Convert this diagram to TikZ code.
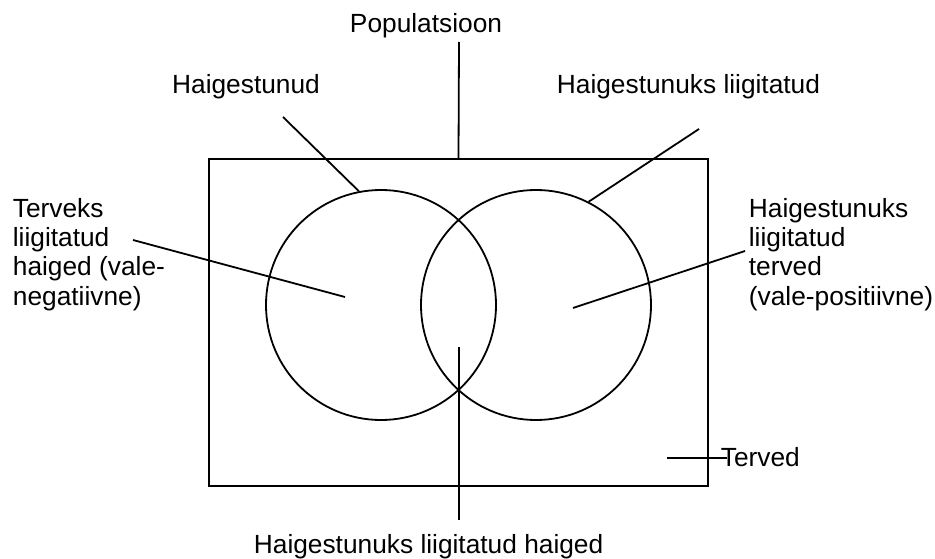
\documentclass[tikz,border=0pt]{standalone}
\usepackage{fontspec}
\setmainfont{Liberation Sans}
\begin{document}
\begin{tikzpicture}[x=1pt, y=-1pt, line width=1.8pt]
        \tikzset{
            silt/.style={inner sep=0pt, align=left, font=\fontsize{26.3}{29.2}\selectfont},
            ring/.style={draw, circle, minimum size=230pt, inner sep=0pt}
        }

                \useasboundingbox (0,0) rectangle (935,559);

                \node[draw, minimum width=499pt, minimum height=327pt, inner sep=0pt] (pop) at (458.5,322.5) {};
                \node[ring] (haiged) at (381,305) {};
                \node[ring] (terved) at (536,305) {};

                \node[silt, anchor=base] (popLbl) at (426,33) {Populatsioon};
                \node[silt, anchor=base] (haigeLbl) at (246,94) {Haigestunud};
                \node[silt, anchor=base west] (liigLbl) at (556,94) {Haigestunuks liigitatud};
                \node[silt, anchor=base west] (negLbl) at (12,305) {Terveks\\liigitatud\\haiged (vale-\\negatiivne)};
                \node[silt, anchor=base west] (posLbl) at (748,305) {Haigestunuks\\liigitatud\\terved\\(vale-positiivne)};
                \node[silt, anchor=base west] (tervLbl) at (720,466) {Terved};
                \node[silt, anchor=base west] (okLbl) at (253,553) {Haigestunuks liigitatud haiged};

                \coordinate (popEnd) at (459,42);
                \coordinate (haigeEnd) at (283,117);
                \coordinate (liigEnd) at (699,129);
                \coordinate (negEnd) at (133,240);
                \coordinate (negIn) at (345,297);
                \coordinate (posEnd) at (745,251);
                \coordinate (posIn) at (573,308);
                \coordinate (tervEnd) at (727,458);
                \coordinate (tervIn) at (667,458);
                \coordinate (okEnd) at (459,520);
                \coordinate (okIn) at (459,347);

                \draw (popEnd) -- (pop.north);
                \draw (haigeEnd) -- (haiged.101);
                \draw (liigEnd) -- (terved.63);
                \draw (negEnd) -- (negIn);
                \draw (posEnd) -- (posIn);
                \draw (tervIn) -- (tervEnd);
                \draw (okIn) -- (okEnd);

\end{tikzpicture}
\end{document}
